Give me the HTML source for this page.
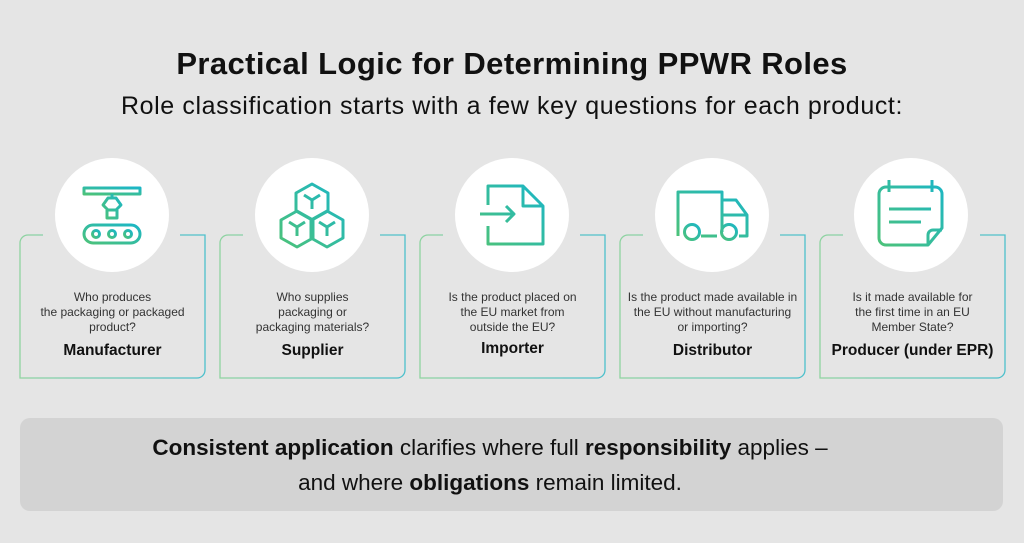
<!DOCTYPE html>
<html><head><meta charset="utf-8"><style>
body{margin:0;width:1024px;height:543px;background:#e5e5e5;font-family:"Liberation Sans",sans-serif;position:relative;overflow:hidden;color:#111}
.t{position:absolute;left:0;width:1024px;text-align:center}
.q{position:absolute;top:290px;width:185px;text-align:center;font-size:12px;line-height:15px;color:#333}
.r{position:absolute;top:342px;width:185px;text-align:center;font-size:15.5px;font-weight:bold}
</style></head><body>
<div class="t" style="top:46px;font-size:31px;font-weight:bold;letter-spacing:0.4px">Practical Logic for Determining PPWR Roles</div>
<div class="t" style="top:92px;font-size:25px;letter-spacing:0.6px">Role classification starts with a few key questions for each product:</div>
<svg width="1024" height="543" style="position:absolute;left:0;top:0">
<defs><linearGradient id="g" x1="0" y1="1" x2="1" y2="0"><stop offset="0" stop-color="#4cc27a"/><stop offset="1" stop-color="#1bb6c6"/></linearGradient>
<linearGradient id="c" x1="0" x2="1"><stop offset="0" stop-color="#8fd3a0"/><stop offset="1" stop-color="#4cc0cc"/></linearGradient></defs>
<g fill="none" stroke="url(#c)" stroke-width="1.3">
<path d="M43 235H28a8 8 0 0 0-8 8V378h177a8 8 0 0 0 8-8V235H180"/>
<path d="M243 235H228a8 8 0 0 0-8 8V378h177a8 8 0 0 0 8-8V235H380"/>
<path d="M443 235H428a8 8 0 0 0-8 8V378h177a8 8 0 0 0 8-8V235H580"/>
<path d="M643 235H628a8 8 0 0 0-8 8V378h177a8 8 0 0 0 8-8V235H780"/>
<path d="M843 235H828a8 8 0 0 0-8 8V378h177a8 8 0 0 0 8-8V235H980"/>
</g>
<g fill="#fff"><circle cx="112" cy="215" r="57"/><circle cx="312" cy="215" r="57"/><circle cx="512" cy="215" r="57"/><circle cx="712" cy="215" r="57"/><circle cx="911" cy="215" r="57"/></g>
<g fill="none" stroke="url(#g)" stroke-width="3" stroke-linejoin="round">
<rect x="84" y="188" width="56" height="6"/><path d="M112 194v4M103 205l5-7h8l5 7-5 5h-8zM107 210v8h10v-8"/><rect x="84" y="225" width="56" height="18" rx="9"/><circle cx="96" cy="234" r="3.5"/><circle cx="112" cy="234" r="3.5"/><circle cx="128" cy="234" r="3.5"/>
<path d="M312 184l16 9v18l-16 9-16-9v-18zM297 211l16 9v18l-16 9-16-9v-18zM327 211l16 9v18l-16 9-16-9v-18zM304 195l8 5 8-5M312 200v9M289 222l8 5 8-5M297 227v9M319 222l8 5 8-5M327 227v9"/>
<path d="M488 205v-19h35l20 20v38h-55v-18M543 206h-20v-20M480 214h33M506 206l8 8-8 8"/>
<path d="M678 236v-44h44v40M722 200h14l11 15v21h-8M722 215h25M701 236h16"/><circle cx="692" cy="232" r="7.5"/><circle cx="729" cy="232" r="7.5"/>
<path d="M928 245h-42a7 7 0 0 1-7-7v-44a7 7 0 0 1 7-7h49a7 7 0 0 1 7 7v34zM928 245v-10a5 5 0 0 1 5-5h9M889 180v12M932 180v12M889 209h42M889 222h32"/>
</g></svg>
<div class="q" style="left:20px">Who produces<br>the packaging or packaged<br>product?</div><div class="r" style="left:20px">Manufacturer</div>
<div class="q" style="left:220px">Who supplies<br>packaging or<br>packaging materials?</div><div class="r" style="left:220px">Supplier</div>
<div class="q" style="left:420px">Is the product placed on<br>the EU market from<br>outside the EU?</div><div class="r" style="left:420px;top:340px">Importer</div>
<div class="q" style="left:620px">Is the product made available in<br>the EU without manufacturing<br>or importing?</div><div class="r" style="left:620px">Distributor</div>
<div class="q" style="left:820px">Is it made available for<br>the first time in an EU<br>Member State?</div><div class="r" style="left:820px">Producer (under EPR)</div>
<div style="position:absolute;left:20px;top:418px;width:983px;height:93px;background:#d3d3d3;border-radius:10px"></div>
<div class="t" style="top:430px;left:-22px;font-size:22.5px;line-height:35px;color:#111"><b>Consistent application</b> clarifies where full <b>responsibility</b> applies –<br>and where <b>obligations</b> remain limited.</div>
</body></html>
